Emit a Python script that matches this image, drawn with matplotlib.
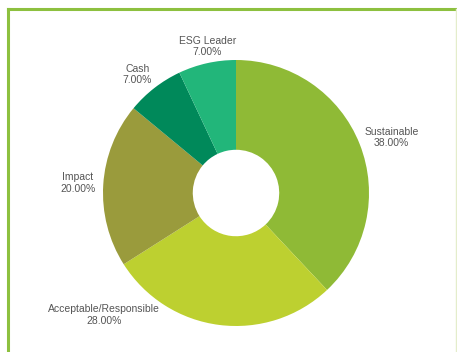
import numpy as np
import matplotlib.pyplot as plt
from matplotlib.lines import Line2D

plt.rcParams['font.family'] = ['Liberation Sans', 'DejaVu Sans']

categories = ['Sustainable', 'Acceptable/Responsible', 'Impact', 'Cash', 'ESG Leader']
shares = [38.0, 28.0, 20.0, 7.0, 7.0]
colors = ['#8FBA36', '#BDD030', '#9A9B3C', '#00895A', '#22B67A']

# label radius and extra angle shift (degrees) per slice
label_radius = [1.24, 1.35, 1.19, 1.16, 1.12]
label_shift = [-2, -40, 0, 2, -1.5]

W, H = 457, 352
cx, cy, R = 236, 193, 133

fig = plt.figure(figsize=(W / 100, H / 100), dpi=100)
ax = fig.add_axes([0, 0, 1, 1])

wedges, _ = ax.pie(shares, colors=colors, startangle=90, counterclock=False,
                   radius=1.0, wedgeprops=dict(width=0.675, linewidth=0))

# pie() resets the limits, so fix the scale afterwards
ax.set_aspect('equal')
ax.set_xlim(-cx / R, (W - cx) / R)
ax.set_ylim(-(H - cy) / R, cy / R)
ax.axis('off')

for w, name, val, r, dt in zip(wedges, categories, shares, label_radius, label_shift):
    mid = np.deg2rad((w.theta1 + w.theta2) / 2 + dt)
    ax.text(r * np.cos(mid), r * np.sin(mid), f'{name}\n{val:.2f}%',
            ha='center', va='center', fontsize=7.5, color='#555555',
            linespacing=1.15)

# frame on left, top and right
frame = '#8DC03F'
fig.add_artist(Line2D([8 / W, 8 / W], [0, 1 - 9 / H], transform=fig.transFigure,
                      color=frame, lw=2.2, solid_capstyle='projecting'))
fig.add_artist(Line2D([8 / W, 1], [1 - 9 / H, 1 - 9 / H], transform=fig.transFigure,
                      color=frame, lw=2.2))
fig.add_artist(Line2D([456 / W, 456 / W], [0, 1 - 9 / H], transform=fig.transFigure,
                      color='#E4EDCB', lw=1))

fig.savefig('out.png', dpi=100)
